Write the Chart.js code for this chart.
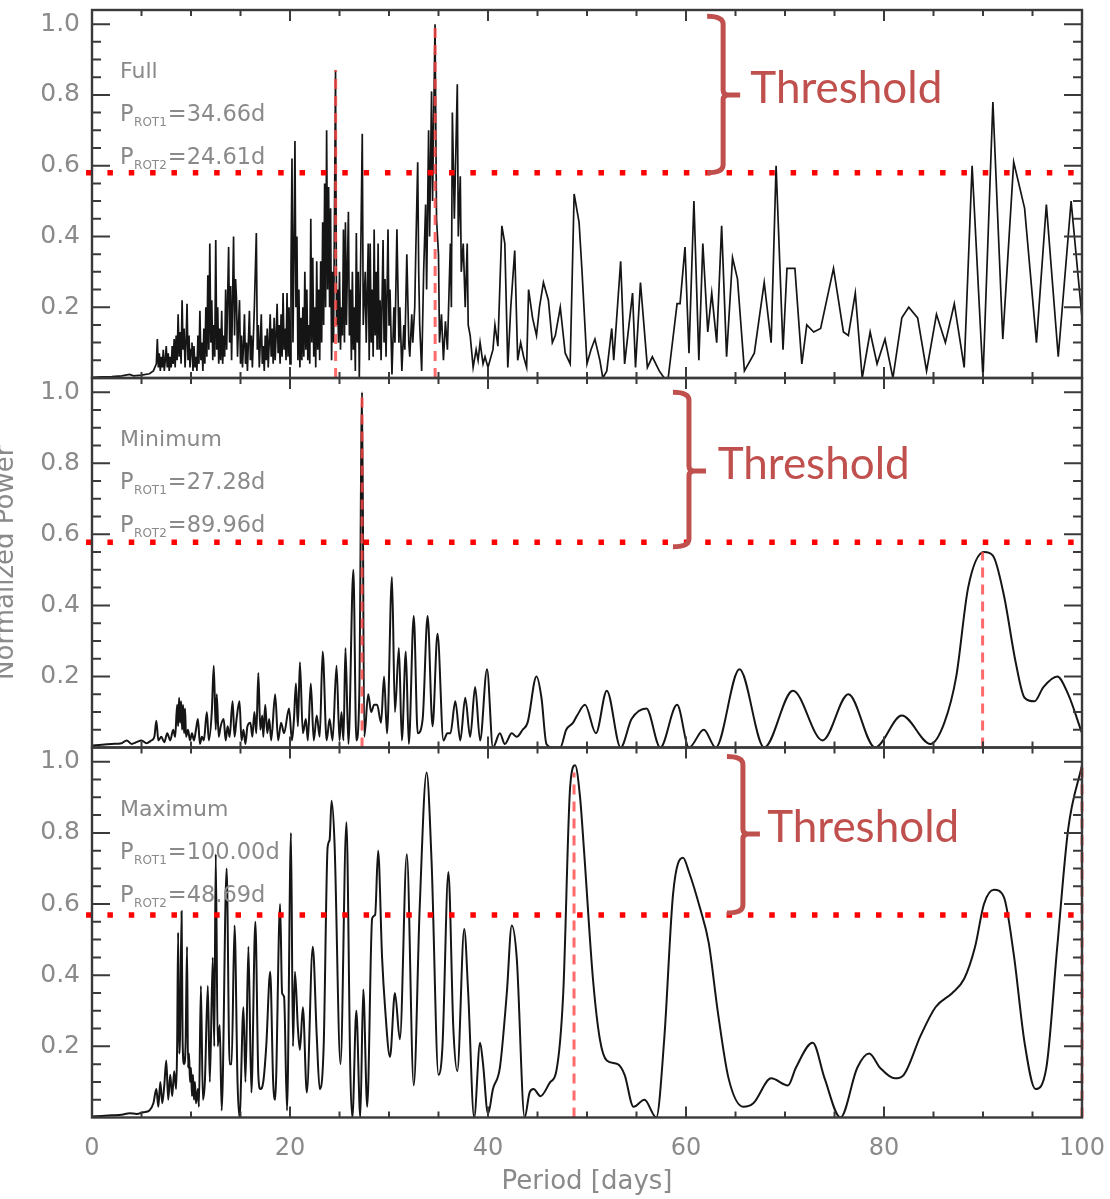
<!DOCTYPE html>
<html>
<head>
<meta charset="utf-8">
<script src="https://cdn.jsdelivr.net/npm/chart.js@4.4.1/dist/chart.umd.min.js"></script>
<style>
html,body{margin:0;padding:0;background:#fff;}
#wrap{position:relative;width:1110px;height:1199px;overflow:hidden;background:#fff;}
canvas{position:absolute;left:0;}
</style>
</head>
<body>
<div id="wrap">
<canvas id="c1" width="1110" height="380" style="top:0px"></canvas>
<canvas id="c2" width="1110" height="380" style="top:370px"></canvas>
<canvas id="c3" width="1110" height="459" style="top:740px"></canvas>
</div>
<script>
// ---------------- DATA ----------------
const panelNames = ['Full', 'Minimum', 'Maximum'];
const xTickLabels = [0, 20, 40, 60, 80, 100];
const yTickLabels = [0.2, 0.4, 0.6, 0.8, 1.0];
const xAxisTitle = 'Period [days]';
const yAxisTitle = 'Normalized Power';
const thresholdText = 'Threshold';

// rotation periods (days) and the power reached at those periods
const rotPeriods = [[34.66, 24.61], [27.28, 89.96], [100.00, 48.69]];
const rotPower   = [[1.00, 0.87], [1.00, 0.55], [1.00, 0.97]];
// detection thresholds per panel
const thresholds = [0.580, 0.578, 0.569];

// periodogram: [period, normalized power]
const fullPts = [
[0,0.002],[1,0.003],[2,0.004],[3,0.006],[3.8,0.01],[4.2,0.006],[5,0.008],[5.8,0.012],[6.2,0.02],[6.5,0.04],
[6.6,0.11],[6.7,0.03],[6.8,0.07],[6.9,0.02],[7.0,0.06],[7.1,0.03],[7.2,0.08],[7.3,0.02],[7.4,0.05],[7.5,0.09],[7.6,0.03],[7.7,0.07],[7.8,0.02],[7.9,0.06],[8.0,0.03],[8.1,0.09],[8.2,0.04],[8.3,0.11],[8.4,0.03],[8.5,0.12],[8.6,0.05],[8.7,0.18],[8.8,0.06],[8.9,0.13],[9.0,0.04],[9.1,0.22],[9.2,0.08],[9.3,0.14],[9.4,0.03],[9.5,0.1],[9.6,0.21],[9.7,0.05],[9.8,0.12],[9.9,0.03],[10.0,0.08],[10.1,0.1],[10.2,0.02],[10.3,0.09],[10.4,0.03],[10.5,0.06],[10.6,0.02],[10.7,0.12],[10.8,0.04],[10.9,0.19],[11.0,0.05],[11.1,0.1],[11.2,0.02],[11.3,0.14],[11.4,0.04],[11.5,0.2],[11.6,0.06],[11.7,0.29],[11.8,0.08],[11.9,0.38],[12.0,0.1],[12.1,0.22],[12.2,0.05],[12.3,0.15],[12.4,0.06],[12.5,0.39],[12.6,0.08],[12.7,0.2],[12.8,0.04],[12.9,0.14],[13.0,0.05],[13.1,0.19],[13.2,0.04],[13.3,0.12],[13.4,0.06],[13.5,0.25],[13.6,0.08],[13.8,0.37],[13.9,0.1],[14.0,0.26],[14.1,0.05],[14.3,0.4],[14.4,0.12],[14.5,0.28],[14.6,0.22],[14.7,0.06],[14.8,0.15],[14.9,0.22],[15.0,0.04],[15.1,0.12],[15.2,0.03],[15.3,0.09],[15.4,0.18],[15.5,0.04],[15.6,0.1],[15.7,0.02],[15.9,0.19],[16.0,0.05],[16.1,0.12],[16.2,0.03],[16.4,0.2],[16.6,0.41],[16.7,0.08],[16.8,0.15],[16.9,0.03],[17.0,0.1],[17.1,0.18],[17.2,0.04],[17.3,0.09],[17.4,0.02],[17.5,0.12],[17.6,0.05],[17.7,0.14],[17.8,0.03],[17.9,0.1],[18.0,0.18],[18.1,0.06],[18.2,0.14],[18.3,0.04],[18.4,0.17],[18.5,0.05],[18.6,0.12],[18.7,0.21],[18.8,0.07],[18.9,0.15],[19.0,0.04],[19.1,0.18],[19.2,0.06],[19.3,0.24],[19.4,0.08],[19.5,0.14],[19.6,0.05],[19.7,0.24],[19.8,0.06],[19.9,0.2],[20.0,0.04],[20.1,0.3],[20.2,0.62],[20.3,0.1],[20.4,0.35],[20.5,0.67],[20.6,0.2],[20.7,0.4],[20.8,0.05],[20.9,0.25],[21.0,0.03],[21.1,0.17],[21.2,0.05],[21.3,0.2],[21.4,0.06],[21.5,0.3],[21.6,0.08],[21.7,0.25],[21.8,0.05],[21.9,0.15],[22.0,0.04],[22.1,0.45],[22.2,0.1],[22.3,0.34],[22.4,0.06],[22.5,0.2],[22.6,0.03],[22.7,0.33],[22.8,0.08],[22.9,0.25],[23.0,0.05],[23.1,0.33],[23.2,0.1],[23.3,0.44],[23.4,0.15],[23.5,0.55],[23.6,0.2],[23.7,0.7],[23.8,0.25],[23.9,0.54],[24.0,0.2],[24.1,0.48],[24.2,0.05],[24.3,0.3],[24.4,0.1],[24.6,0.87],[24.7,0.15],[24.8,0.25],[24.9,0.1],[25.0,0.3],[25.1,0.08],[25.2,0.2],[25.3,0.12],[25.4,0.42],[25.5,0.1],[25.6,0.44],[25.7,0.15],[25.9,0.47],[26.0,0.12],[26.1,0.25],[26.2,0.05],[26.3,0.3],[26.4,0.08],[26.5,0.2],[26.6,0.02],[26.7,0.41],[26.8,0.1],[26.9,0.3],[27.0,0.0],[27.1,0.25],[27.3,0.69],[27.4,0.15],[27.6,0.3],[27.7,0.1],[27.9,0.38],[28.0,0.05],[28.1,0.38],[28.2,0.1],[28.3,0.25],[28.4,0.06],[28.5,0.42],[28.6,0.12],[28.7,0.3],[28.8,0.08],[28.9,0.38],[29.0,0.08],[29.1,0.22],[29.2,0.05],[29.4,0.39],[29.5,0.1],[29.6,0.28],[29.7,0.06],[29.9,0.42],[30.0,0.15],[30.1,0.25],[30.3,0.01],[30.5,0.2],[30.6,0.1],[30.8,0.42],[31.0,0.1],[31.1,0.2],[31.3,0.02],[31.5,0.15],[31.6,0.08],[31.8,0.35],[32.0,0.1],[32.1,0.06],[32.3,0.18],[32.4,0.1],[32.6,0.2],[32.7,0.35],[32.9,0.61],[33.0,0.3],[33.1,0.15],[33.3,0.02],[33.5,0.3],[33.7,0.49],[33.8,0.25],[34.0,0.7],[34.1,0.4],[34.3,0.81],[34.4,0.5],[34.65,1.0],[34.8,0.45],[35.0,0.35],[35.1,0.1],[35.3,0.18],[35.5,0.05],[35.7,0.16],[35.9,0.08],[36.2,0.38],[36.3,0.2],[36.4,0.75],[36.6,0.45],[36.9,0.83],[37.0,0.4],[37.2,0.57],[37.3,0.3],[37.5,0.38],[37.7,0.2],[37.9,0.38],[38.0,0.15],[38.2,0.12],[38.5,0.03],[38.8,0.08],[39.0,0.05],[39.2,0.1],[39.5,0.04],[39.7,0.06],[40.0,0.03],[40.2,0.05],[40.5,0.08],[40.7,0.15],[41.0,0.09],[41.4,0.43],[41.7,0.38],[42.0,0.03],[42.3,0.2],[42.7,0.36],[43.0,0.05],[43.3,0.1],[43.6,0.06],[43.9,0.03],[44.1,0.25],[44.5,0.17],[44.9,0.12],[45.2,0.2],[45.6,0.27],[46.1,0.22],[46.5,0.1],[46.8,0.12],[47.3,0.2],[47.8,0.07],[48.3,0.04],[48.7,0.52],[49.2,0.44],[49.5,0.3],[50.0,0.04],[50.4,0.08],[50.8,0.11],[51.3,0.05],[51.6,0.0],
[52.0,0.02],[52.5,0.14],[52.7,0.05],[53.4,0.33],[53.8,0.04],[54.6,0.24],[54.9,0.03],[55.4,0.27],[56.1,0.03],[56.6,0.06],[57.3,0.02],[57.8,0.0],[58.2,0.0],[59.1,0.21],[59.4,0.21],[59.9,0.37],[60.3,0.07],[60.8,0.5],[61.3,0.05],[61.7,0.38],[62.2,0.13],[62.6,0.24],[63.1,0.1],[63.6,0.43],[64.1,0.06],[64.7,0.34],[65.2,0.28],[65.9,0.02],[66.9,0.07],[67.9,0.27],[68.6,0.1],[69.1,0.6],[69.8,0.08],[70.2,0.31],[71.0,0.31],[71.7,0.04],[72.2,0.15],[72.9,0.13],[73.6,0.14],[74.9,0.31],[75.9,0.13],[76.4,0.12],[77.1,0.24],[77.8,0.0],[78.6,0.13],[79.3,0.04],[80.1,0.11],[80.9,0.0],[81.8,0.17],[82.5,0.2],[83.4,0.17],[84.3,0.02],[85.3,0.18],[86.2,0.1],[87.1,0.21],[88.1,0.03],[88.9,0.6],[90.0,0.0],[91.0,0.78],[92.0,0.11],[93.1,0.61],[94.2,0.48],[95.4,0.1],[96.4,0.49],[97.6,0.06],[98.9,0.5],[100,0.17]
];

const minPts = [
[0,0.005],[1,0.008],[2,0.01],[3,0.012],[3.5,0.02],[4,0.01],[4.5,0.015],[5,0.02],[5.5,0.012],[6,0.02],[6.3,0.03],[6.5,0.075],[6.7,0.02],[7.0,0.03],[7.3,0.015],[7.6,0.04],[7.9,0.02],[8.2,0.05],[8.4,0.03],[8.6,0.12],[8.7,0.06],[8.8,0.14],[8.9,0.07],[9.0,0.13],[9.1,0.05],[9.2,0.12],[9.3,0.04],[9.4,0.11],[9.5,0.03],[9.7,0.05],[9.9,0.02],[10.1,0.04],[10.3,0.02],[10.5,0.05],[10.7,0.08],[10.9,0.01],[11.1,0.03],[11.3,0.02],[11.6,0.1],[11.8,0.02],[12.1,0.1],[12.3,0.23],[12.5,0.05],[12.6,0.15],[12.8,0.03],[13.0,0.06],[13.3,0.08],[13.5,0.02],[13.7,0.06],[13.9,0.03],[14.2,0.13],[14.4,0.03],[14.6,0.08],[14.9,0.13],[15.1,0.02],[15.3,0.05],[15.5,0.01],[15.7,0.06],[16.0,0.07],[16.2,0.03],[16.4,0.1],[16.6,0.04],[16.8,0.21],[17.0,0.05],[17.2,0.09],[17.3,0.03],[17.5,0.12],[17.7,0.04],[17.9,0.08],[18.1,0.02],[18.5,0.15],[18.8,0.02],[19.1,0.07],[19.4,0.04],[19.9,0.11],[20.2,0.02],[20.4,0.08],[20.6,0.18],[20.8,0.06],[21.0,0.24],[21.3,0.04],[21.6,0.08],[21.8,0.02],[22.1,0.18],[22.4,0.02],[22.7,0.09],[23.0,0.03],[23.3,0.27],[23.7,0.02],[24.0,0.08],[24.3,0.02],[24.7,0.23],[25.0,0.02],[25.2,0.1],[25.4,0.02],[25.6,0.28],[25.9,0.01],[26.4,0.5],[26.7,0.02],[27.0,0.15],[27.28,1.0],[27.5,0.03],[27.9,0.15],[28.2,0.1],[28.5,0.12],[28.8,0.12],[29.2,0.07],[29.5,0.2],[29.8,0.04],[30.3,0.48],[30.6,0.1],[31.0,0.28],[31.3,0.02],[31.7,0.27],[32.0,0.01],[32.5,0.37],[32.9,0.04],[33.4,0.08],[33.9,0.37],[34.4,0.06],[34.9,0.32],[35.5,0.02],[35.9,0.04],[36.2,0.04],[36.7,0.13],[37.2,0.02],[37.7,0.14],[38.2,0.03],[38.7,0.17],[39.2,0.02],[39.9,0.22],[40.5,0.0],[41.2,0.04],[41.7,0.01],[42.4,0.04],[42.9,0.03],[43.5,0.05],[44.0,0.07],[44.9,0.2],[45.4,0.14],[45.9,0.01],[46.5,0.0],[47.3,0.0],[47.9,0.05],[48.6,0.07],[49.0,0.09],[49.8,0.12],[50.9,0.04],[52.0,0.16],[53.4,0.0],[54.5,0.08],[56.0,0.11],[57.4,0.0],[59.1,0.12],[60.3,0.0],[61.8,0.05],[63.0,0.0],[65.4,0.22],[67.9,0.0],[70.8,0.16],[73.8,0.02],[76.4,0.15],[79.1,0.0],[81.8,0.09],[84.7,0.01],[86.1,0.07],[87.3,0.2],[88.5,0.45],[90.1,0.55],[91.0,0.54],[92.1,0.43],[93.3,0.24],[94.2,0.14],[95.2,0.13],[96.1,0.17],[97.5,0.2],[98.6,0.15],[100,0.04]
];

const maxPts = [
[0,0.003],[1,0.004],[2,0.006],[3,0.008],[3.8,0.012],[4.5,0.01],[5.2,0.015],[5.8,0.02],[6.2,0.04],[6.5,0.08],[6.7,0.03],[6.9,0.1],[7.1,0.04],[7.3,0.09],[7.5,0.16],[7.7,0.05],[7.9,0.12],[8.1,0.06],[8.3,0.13],[8.5,0.08],[8.6,0.2],[8.7,0.52],[8.8,0.18],[8.9,0.24],[9.05,0.58],[9.15,0.22],[9.3,0.15],[9.45,0.2],[9.6,0.48],[9.7,0.14],[9.8,0.18],[9.9,0.1],[10.0,0.14],[10.1,0.06],[10.2,0.12],[10.3,0.05],[10.4,0.1],[10.5,0.04],[10.7,0.08],[10.8,0.03],[11.0,0.37],[11.2,0.05],[11.4,0.1],[11.7,0.37],[11.9,0.1],[12.2,0.45],[12.35,0.2],[12.5,0.74],[12.7,0.2],[12.9,0.26],[13.1,0.02],[13.6,0.7],[13.9,0.15],[14.1,0.15],[14.4,0.54],[14.7,0.1],[14.9,0.0],[15.3,0.31],[15.5,0.1],[15.8,0.48],[16.1,0.07],[16.5,0.55],[16.8,0.12],[17.0,0.08],[17.3,0.1],[17.6,0.2],[18.0,0.41],[18.3,0.1],[18.5,0.05],[19.0,0.6],[19.2,0.35],[19.4,0.34],[19.7,0.02],[20.1,0.8],[20.3,0.2],[20.5,0.41],[20.8,0.25],[21.0,0.19],[21.3,0.31],[21.7,0.07],[22.3,0.48],[22.7,0.23],[23.0,0.08],[23.4,0.2],[23.8,0.76],[24.0,0.78],[24.2,0.89],[24.5,0.77],[25.1,0.15],[25.7,0.83],[26.1,0.12],[26.3,0.0],[26.7,0.3],[27.1,0.0],[27.4,0.36],[27.8,0.03],[28.3,0.56],[28.6,0.57],[28.9,0.75],[29.3,0.45],[29.6,0.31],[30.1,0.17],[30.6,0.35],[31.1,0.22],[31.8,0.74],[32.5,0.09],[33.1,0.59],[33.8,0.97],[34.3,0.72],[35.0,0.12],[35.4,0.2],[36.0,0.69],[36.5,0.25],[36.9,0.13],[37.6,0.53],[38.0,0.35],[38.6,0.0],[39.2,0.21],[39.5,0.15],[40.0,0.01],[40.5,0.08],[41.2,0.14],[41.9,0.35],[42.4,0.54],[42.9,0.45],[43.7,0.0],[44.2,0.07],[44.6,0.08],[45.3,0.06],[46.3,0.1],[46.9,0.13],[47.6,0.35],[48.3,0.93],[48.8,0.99],[49.3,0.9],[49.7,0.75],[50.6,0.39],[51.3,0.22],[52.0,0.16],[53.1,0.15],[53.8,0.12],[54.7,0.03],[55.8,0.05],[57.0,0.0],[57.8,0.22],[58.7,0.63],[59.7,0.73],[60.3,0.69],[61.4,0.59],[62.3,0.49],[63.2,0.3],[64.3,0.11],[65.8,0.03],[66.8,0.04],[68.6,0.11],[70.3,0.09],[71.1,0.14],[72.8,0.21],[74.0,0.11],[75.6,0.0],[77.3,0.14],[78.5,0.18],[79.6,0.14],[81.1,0.11],[82.0,0.12],[83.7,0.23],[85.2,0.31],[86.9,0.35],[88.1,0.39],[89.2,0.48],[90.1,0.6],[91.1,0.64],[92.1,0.62],[93.1,0.46],[94.2,0.21],[95.3,0.08],[96.4,0.14],[97.5,0.48],[98.6,0.81],[100,0.99]
];

const series = [fullPts, minPts, maxPts];

// ---------------- LAYOUT / STYLE ----------------
const GRAY = '#8a8a8a';
const RED_T = '#C0504D';
const AX = '#3a3a3a';
const canvasPad = [{top:10,bottom:2},{top:8,bottom:2.5},{top:7.5,bottom:0}];
// bracket annotation positions in data coordinates
const bracketLayout = [
  {spine:63.75, top:1.022, bottom:0.580, prong:0.800, textX:66.5, textY:0.777},
  {spine:60.30, top:1.000, bottom:0.565, prong:0.778, textX:63.2, textY:0.756},
  {spine:65.75, top:1.015, bottom:0.575, prong:0.797, textX:68.2, textY:0.775}
];
const thrStart = -0.6, thrEnd = 99.2;

const decoPlugin = {
  id: 'deco',
  afterDatasetsDraw(chart, args, o) {
    const ctx = chart.ctx, a = chart.chartArea;
    const xs = chart.scales.x, ys = chart.scales.y;
    ctx.save();
    ctx.strokeStyle = AX;
    ctx.lineWidth = 2;
    // y ticks (left + right, inward)
    for (let k = 1; k <= 20; k++) {
      const py = ys.getPixelForValue(k * 0.05);
      const L = (k % 4 === 0) ? 18 : 9;
      ctx.beginPath();
      ctx.moveTo(a.left, py); ctx.lineTo(a.left + L, py);
      ctx.moveTo(a.right, py); ctx.lineTo(a.right - L, py);
      ctx.stroke();
    }
    // x ticks (top + bottom, inward)
    for (let k = 1; k < 20; k++) {
      const px = xs.getPixelForValue(k * 5);
      const L = (k % 4 === 0) ? 11 : 6;
      ctx.beginPath();
      ctx.moveTo(px, a.bottom); ctx.lineTo(px, a.bottom - L);
      ctx.moveTo(px, a.top); ctx.lineTo(px, a.top + L);
      ctx.stroke();
    }
    ctx.lineWidth = 2.4;
    ctx.strokeRect(a.left, a.top, a.right - a.left, a.bottom - a.top);

    // panel annotation text
    ctx.fillStyle = GRAY;
    ctx.textAlign = 'left';
    ctx.textBaseline = 'alphabetic';
    const x0 = a.left + 28;
    ctx.font = '22px "DejaVu Sans"';
    ctx.fillText(o.name, x0, a.top + 68);
    o.rot.forEach((p, j) => {
      const by = a.top + 111 + j * 43;
      let x = x0;
      ctx.font = '22.5px "DejaVu Sans"';
      ctx.fillText('P', x, by); x += ctx.measureText('P').width + 0.5;
      const sub = 'ROT' + (j + 1);
      ctx.font = '12px "DejaVu Sans"';
      ctx.fillText(sub, x, by + 5); x += ctx.measureText(sub).width + 1;
      ctx.font = '22.5px "DejaVu Sans"';
      ctx.fillText('=' + p.toFixed(2) + 'd', x, by);
    });

    // threshold bracket
    const b = o.bracket;
    const sx = xs.getPixelForValue(b.spine);
    const ty = ys.getPixelForValue(b.top);
    const by2 = ys.getPixelForValue(b.bottom);
    const py = ys.getPixelForValue(b.prong);
    ctx.strokeStyle = RED_T;
    ctx.lineWidth = 5;
    ctx.lineCap = 'butt';
    ctx.lineJoin = 'round';
    ctx.beginPath();
    ctx.moveTo(sx - 16, ty);
    ctx.quadraticCurveTo(sx, ty, sx, ty + 8);
    ctx.lineTo(sx, py - 5);
    ctx.quadraticCurveTo(sx, py, sx + 5, py);
    ctx.lineTo(sx + 17, py);
    ctx.moveTo(sx + 5, py);
    ctx.quadraticCurveTo(sx, py, sx, py + 5);
    ctx.lineTo(sx, by2 - 8);
    ctx.quadraticCurveTo(sx, by2, sx - 16, by2);
    ctx.stroke();

    ctx.fillStyle = RED_T;
    ctx.font = '44px Lato';
    const w = ctx.measureText(thresholdText).width;
    const fs = 44 * 192 / w;
    ctx.font = fs.toFixed(2) + 'px Lato';
    ctx.fillText(thresholdText, xs.getPixelForValue(b.textX), ys.getPixelForValue(b.textY));
    ctx.restore();
  }
};

function buildChart(i) {
  const isBottom = i === 2;
  const datasets = [];
  datasets.push({
    data: series[i].map(p => ({x: p[0], y: p[1]})),
    showLine: true, pointRadius: 0, pointHoverRadius: 0,
    borderColor: '#151515', borderWidth: i === 0 ? 1.7 : 2.0,
    tension: 0, cubicInterpolationMode: i === 0 ? 'default' : 'monotone',
    order: 3
  });
  rotPeriods[i].forEach((p, j) => {
    datasets.push({
      data: [{x: p, y: 0}, {x: p, y: rotPower[i][j]}],
      showLine: true, pointRadius: 0, pointHoverRadius: 0,
      borderColor: 'rgba(255,70,70,0.8)', borderWidth: 3,
      borderDash: [10, 7], clip: false, order: 1
    });
  });
  datasets.push({
    data: [{x: thrStart, y: thresholds[i]}, {x: thrEnd, y: thresholds[i]}],
    showLine: true, pointRadius: 0, pointHoverRadius: 0,
    borderColor: '#ff0000', borderWidth: 5.5, borderCapStyle: 'butt',
    borderDash: [5.5, 15.85], clip: false, order: 0
  });

  const ctx = document.getElementById('c' + (i + 1));
  return new Chart(ctx, {
    type: 'scatter',
    data: {datasets},
    plugins: [decoPlugin],
    options: {
      responsive: false, animation: false, events: [],
      layout: {padding: {top: canvasPad[i].top, bottom: canvasPad[i].bottom, left: 0, right: 28}},
      plugins: {
        legend: {display: false}, tooltip: {enabled: false},
        deco: {name: panelNames[i], rot: rotPeriods[i], bracket: bracketLayout[i]}
      },
      scales: {
        x: {
          type: 'linear', min: 0, max: 100, display: isBottom,
          grid: {display: false, drawTicks: false, tickLength: 0},
          border: {display: false},
          afterBuildTicks: s => { s.ticks = xTickLabels.map(v => ({value: v})); },
          ticks: {
            color: GRAY, padding: 16.5, maxRotation: 0, autoSkip: false,
            font: {family: 'DejaVu Sans', size: 24},
            callback: v => String(v)
          },
          title: {
            display: isBottom, text: xAxisTitle, color: GRAY,
            font: {family: 'DejaVu Sans', size: 26},
            padding: {top: 0, bottom: 1.5}
          },
          afterFit: s => {
            if (isBottom) { s.height = 81.5; } else { s.height = 0; }
            s.paddingLeft = 0; s.paddingRight = 0;
          }
        },
        y: {
          type: 'linear', min: 0, max: 1.04,
          grid: {display: false, drawTicks: false, tickLength: 0},
          border: {display: false},
          afterBuildTicks: s => { s.ticks = yTickLabels.map(v => ({value: v})); },
          ticks: {
            color: GRAY, padding: 12,
            font: {family: 'DejaVu Sans', size: 25},
            callback: v => v.toFixed(1)
          },
          title: {
            display: i === 1, text: yAxisTitle, color: GRAY,
            font: {family: 'DejaVu Sans', size: 26},
            padding: {top: -9, bottom: 0}
          },
          afterFit: s => { s.width = 92; s.paddingTop = 0; s.paddingBottom = 0; }
        }
      }
    }
  });
}

[0, 1, 2].forEach(buildChart);
</script>
</body>
</html>
